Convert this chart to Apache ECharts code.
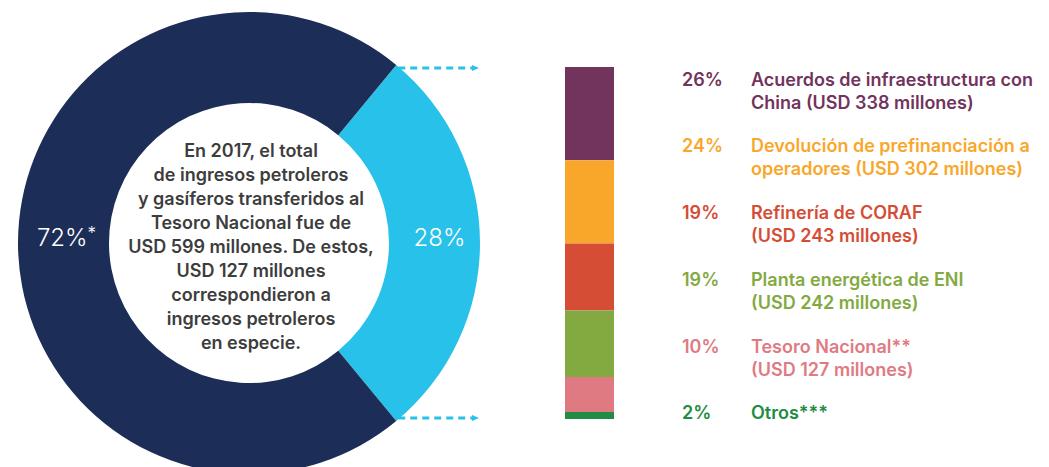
<!DOCTYPE html>
<html>
<head>
<meta charset="utf-8">
<script src="https://cdn.jsdelivr.net/npm/echarts@6/dist/echarts.min.js"></script>
<style>
html,body{margin:0;padding:0;background:#fff;}
#chart{width:1049px;height:467px;}
</style>
</head>
<body>
<div id="chart"></div>
<script>
// ---- data ----
const pieNames = ['Otros destinos', 'En especie'];
const pieValues = [28, 72];
const pieLabels = ['28%', '72%{s|*}'];

const barNames = ['Acuerdos de infraestructura con China', 'Devolución de prefinanciación a operadores', 'Refinería de CORAF', 'Planta energética de ENI', 'Tesoro Nacional**', 'Otros***'];
const barValues = [338, 302, 243, 242, 127, 25];
const barPercents = ['26%', '24%', '19%', '19%', '10%', '2%'];
const barLabelLines = [
  ['Acuerdos de infraestructura con', 'China (USD 338 millones)'],
  ['Devolución de prefinanciación a', 'operadores (USD 302 millones)'],
  ['Refinería de CORAF', '(USD 243 millones)'],
  ['Planta energética de ENI', '(USD 242 millones)'],
  ['Tesoro Nacional**', '(USD 127 millones)'],
  ['Otros***']
];
const centerLines = [
  'En 2017, el total',
  'de ingresos petroleros',
  'y gasíferos transferidos al',
  'Tesoro Nacional fue de',
  'USD 599 millones. De estos,',
  'USD 127 millones',
  'correspondieron a',
  'ingresos petroleros',
  'en especie.'
];

// ---- styles ----
const pieColors = ['#27c1ea', '#1c2d57'];
const barColors = ['#72335c', '#f9a72b', '#d54d35', '#82aa41', '#e07a82', '#218d44'];
const FONT = 'Inter, sans-serif';
const TXT_FONT = '600 18px ' + FONT;

const cx = 249, cy = 243, rOut = 231, rIn = 140;
const halfAngle = pieValues[0] / 100 * 360 / 2;
const barTop = 67, barH = 352, barLeft = 565, barW = 49;

const chart = echarts.init(document.getElementById('chart'), null, {renderer: 'svg'});

const total = barValues.reduce((a, b) => a + b, 0);

const rowY = [79, 145, 212, 279, 346, 412];
const graphics = [];
barLabelLines.forEach((lines, i) => {
  graphics.push({
    type: 'text', x: 682, y: rowY[i],
    style: {text: barPercents[i], fill: barColors[i], font: TXT_FONT, verticalAlign: 'middle'}
  });
  graphics.push({
    type: 'text', x: 751, y: rowY[i] - 11.5,
    style: {text: lines.join('\n'), fill: barColors[i], font: TXT_FONT, lineHeight: 23, verticalAlign: 'top'}
  });
});

// center text
graphics.push({
  type: 'text', x: cx + 2, y: cy + 3,
  style: {
    text: centerLines.join('\n'), fill: '#3d3d3d', font: TXT_FONT,
    lineHeight: 24, align: 'center', verticalAlign: 'middle'
  }
});

// dashed connectors from the light-blue wedge to the stacked bar
const a = halfAngle * Math.PI / 180;
const x1 = cx + rOut * Math.cos(a);
[barTop + 1, barTop + barH - 1].forEach(yy => {
  graphics.push({
    type: 'line', shape: {x1: x1 + 2, y1: yy, x2: 473, y2: yy},
    style: {stroke: '#27c1ea', lineWidth: 3, lineDash: [7, 5]}
  });
  graphics.push({
    type: 'polygon', shape: {points: [[472, yy - 3], [479, yy], [472, yy + 3]]},
    style: {fill: '#27c1ea'}
  });
});

const option = {
  animation: false,
  backgroundColor: '#ffffff',
  grid: {left: barLeft, top: barTop, width: barW, height: barH},
  xAxis: {type: 'category', data: ['2017'], show: false},
  yAxis: {type: 'value', min: 0, max: total, inverse: true, show: false},
  series: [
    {
      type: 'pie', center: [cx, cy], radius: [rIn, rOut],
      startAngle: halfAngle, clockwise: true,
      silent: true,
      data: pieValues.map((v, i) => ({
        value: v, name: pieNames[i],
        itemStyle: {color: pieColors[i]},
        label: {formatter: pieLabels[i], offset: i === 1 ? [6, -6] : [2, -6]}
      })),
      label: {
        show: true, position: 'inside', color: '#ffffff',
        fontFamily: 'Inter, sans-serif', fontSize: 24, fontWeight: 300,
        rich: {s: {fontSize: 17, color: '#ffffff', verticalAlign: 'top', padding: [0, 0, 8, 0], fontFamily: 'Inter, sans-serif', fontWeight: 300}}
      },
      labelLine: {show: false}
    }
  ].concat(barValues.map((v, i) => ({
    type: 'bar', stack: 'total', name: barNames[i], data: [v],
    barWidth: '100%', itemStyle: {color: barColors[i]}
  }))),
  graphic: graphics
};
chart.setOption(option);
</script>
</body>
</html>
